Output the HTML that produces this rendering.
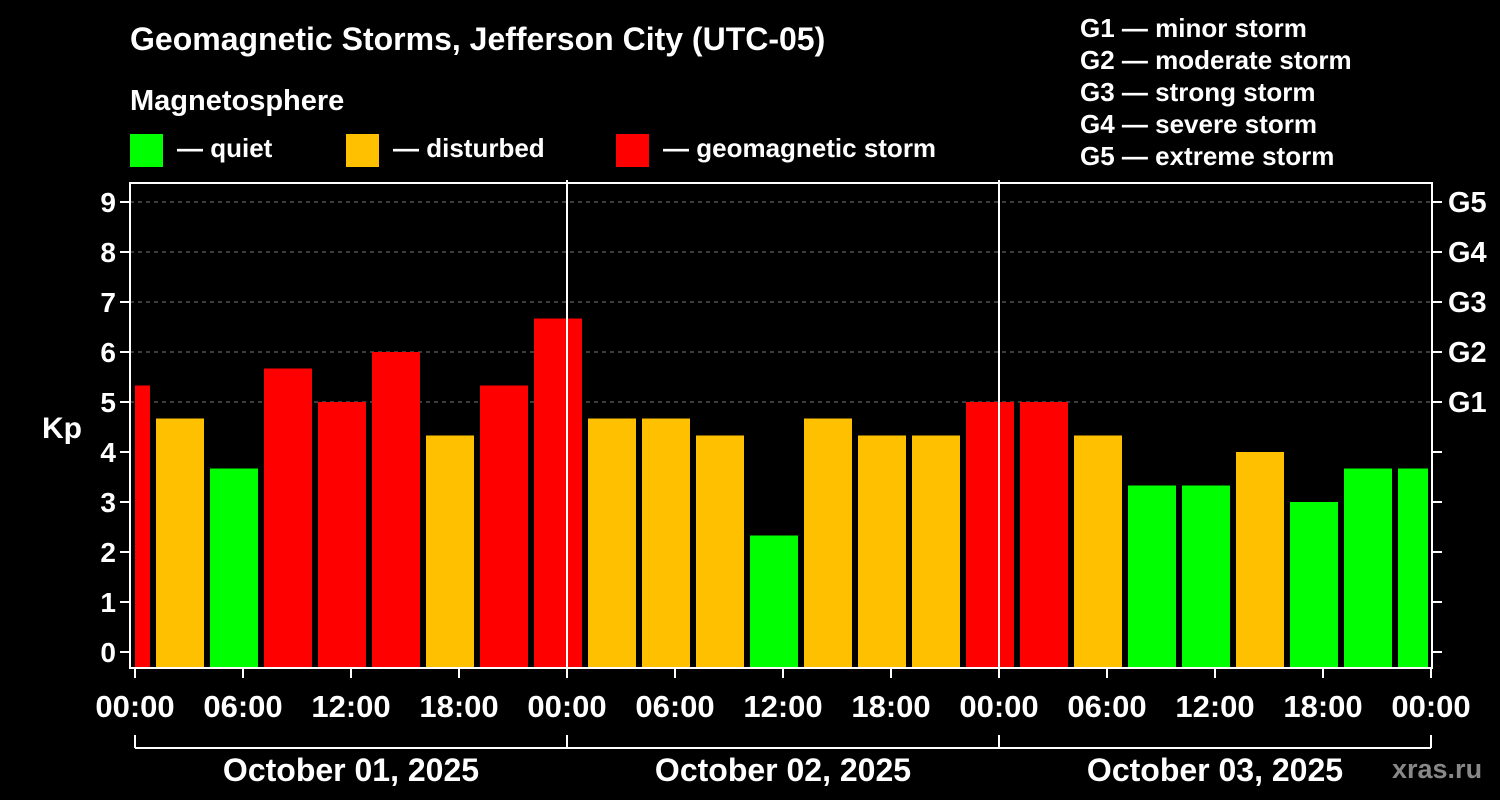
<!DOCTYPE html>
<html><head><meta charset="utf-8"><style>
body{margin:0;background:#000;}
svg{display:block;font-family:"Liberation Sans",Arial,sans-serif;font-weight:bold;}
</style></head><body>
<svg id="c" width="1500" height="800" viewBox="0 0 1500 800">
<rect width="1500" height="800" fill="#000"/>
<text x="130" y="50" fill="#fff" font-size="32">Geomagnetic Storms, Jefferson City (UTC-05)</text>
<text x="130" y="110" fill="#fff" font-size="29">Magnetosphere</text>
<g><rect x="130" y="134" width="33" height="33" fill="#00ff00"/><text x="177" y="157" fill="#fff" font-size="26">— quiet</text></g>
<g><rect x="346" y="134" width="33" height="33" fill="#ffc000"/><text x="393" y="157" fill="#fff" font-size="26">— disturbed</text></g>
<g><rect x="616" y="134" width="33" height="33" fill="#ff0000"/><text x="663" y="157" fill="#fff" font-size="26">— geomagnetic storm</text></g>
<g fill="#fff" font-size="26">
<text x="1080" y="37">G1 — minor storm</text><text x="1080" y="69">G2 — moderate storm</text><text x="1080" y="101">G3 — strong storm</text><text x="1080" y="133">G4 — severe storm</text><text x="1080" y="165">G5 — extreme storm</text>
</g>
<text x="42" y="438" fill="#fff" font-size="30">Kp</text>
<text x="1392" y="778" fill="#888" font-size="27">xras.ru</text>
<g id="plot"></g>
</svg>
<script>
const kpValues=[5.33,4.67,3.67,5.67,5,6,4.33,5.33,6.67,4.67,4.67,4.33,2.33,4.67,4.33,4.33,5,5,4.33,3.33,3.33,4,3,3.67,3.67];
const barStartHours=[-2,1,4,7,10,13,16,19,22,25,28,31,34,37,40,43,46,49,52,55,58,61,64,67,70];
const yTicks=[0,1,2,3,4,5,6,7,8,9];
const gLabels=["G1","G2","G3","G4","G5"];
const xTickLabels=["00:00","06:00","12:00","18:00","00:00","06:00","12:00","18:00","00:00","06:00","12:00","18:00","00:00"];
const dateLabels=["October 01, 2025","October 02, 2025","October 03, 2025"];
const NS="http://www.w3.org/2000/svg";
const g=document.getElementById('plot');
const X=h=>135+h*18, Y=v=>652-v*50;
const L=130,R=1432,T=183,B=668;
function el(t,a,p){const e=document.createElementNS(NS,t);for(const k in a)e.setAttribute(k,a[k]);(p||g).appendChild(e);return e;}
yTicks.forEach(v=>{ if(v>=5){const l=el('line',{x1:L,x2:R,y1:Y(v),y2:Y(v),stroke:'#777','stroke-dasharray':'4,4'});

}});
kpValues.forEach((v,i)=>{
 let x0=X(barStartHours[i])+3,x1=X(barStartHours[i]+3)-3;
 x0=Math.max(x0,135);x1=Math.min(x1,1428);
 const c=v>=5?'#ff0000':v>=4?'#ffc000':'#00ff00';
 const r=el('rect',{x:x0,y:Y(v),width:x1-x0,height:B-Y(v),fill:c});
 
 
});
[1,2].forEach(d=>{const l=el('line',{x1:X(d*24),x2:X(d*24),y1:180,y2:B,stroke:'#fff','stroke-width':2});

});
const f=el('rect',{x:L,y:T,width:R-L,height:B-T,fill:'none',stroke:'#fff','stroke-width':2});


yTicks.forEach(v=>{
 el('line',{x1:L-10,x2:L,y1:Y(v),y2:Y(v),stroke:'#fff','stroke-width':2});
 el('line',{x1:R,x2:R+10,y1:Y(v),y2:Y(v),stroke:'#fff','stroke-width':2});
 const t=el('text',{x:L-14,y:Y(v)+10,fill:'#fff','font-size':28,'text-anchor':'end'});t.textContent=v;
 
 
 if(v>=5){const tg=el('text',{x:1448,y:Y(v)+10,fill:'#fff','font-size':29});tg.textContent=gLabels[v-5];
 
 }
});
xTickLabels.forEach((s,i)=>{
 const x=X(i*6);
 el('line',{x1:x,x2:x,y1:B,y2:B+10,stroke:'#fff','stroke-width':2});
 const t=el('text',{x:x,y:717,fill:'#fff','font-size':31,'text-anchor':'middle'});t.textContent=s;
 
 
});
el('line',{x1:135,x2:1431,y1:748,y2:748,stroke:'#fff','stroke-width':2});
[0,1,2,3].forEach(d=>el('line',{x1:X(d*24),x2:X(d*24),y1:735,y2:748,stroke:'#fff','stroke-width':2}));
dateLabels.forEach((s,i)=>{
 const t=el('text',{x:X(i*24+12),y:781,fill:'#fff','font-size':32,'text-anchor':'middle'});t.textContent=s;
 
 
});
</script>
</body></html>
